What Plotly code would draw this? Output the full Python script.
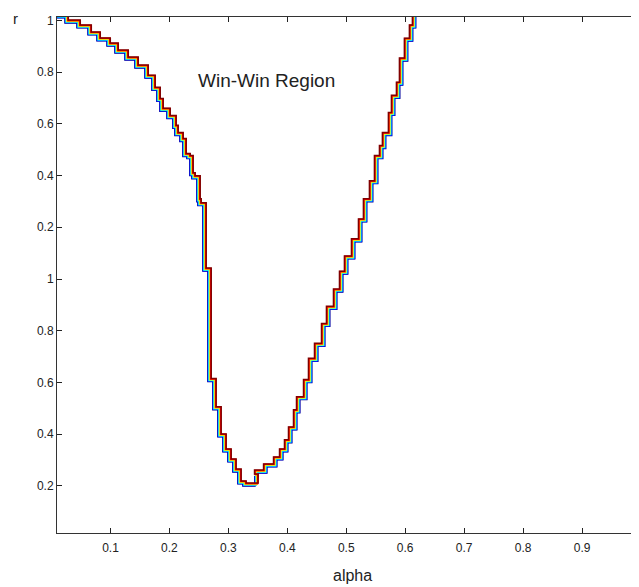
import plotly.graph_objects as go

# Base curve (step corners)
alpha_left = [0.0093, 0.0229, 0.0432, 0.0619, 0.0771, 0.0941, 0.1076, 0.1246, 0.1415, 0.1585,
              0.1703, 0.1788, 0.1839, 0.1958, 0.2059, 0.2093, 0.2178, 0.2229, 0.2297, 0.2347,
              0.2381, 0.2466, 0.2483, 0.2568, 0.2653, 0.2737, 0.2822, 0.2907, 0.2992, 0.3076,
              0.3161, 0.3246, 0.3449]
r_left = [2.021, 2.010, 1.990, 1.971, 1.944, 1.921, 1.901, 1.874, 1.847, 1.816,
          1.777, 1.730, 1.687, 1.649, 1.621, 1.583, 1.555, 1.532, 1.474, 1.466,
          1.400, 1.388, 1.299, 1.284, 1.031, 0.604, 0.495, 0.390, 0.332, 0.293,
          0.254, 0.208, 0.200]
alpha_right = [0.3500, 0.3653, 0.3822, 0.3924, 0.4008, 0.4076, 0.4161, 0.4212, 0.4331, 0.4415,
               0.4517, 0.4636, 0.4720, 0.4839, 0.4941, 0.5025, 0.5144, 0.5263, 0.5347, 0.5449,
               0.5534, 0.5619, 0.5669, 0.5771, 0.5822, 0.5907, 0.5958, 0.6042, 0.6127, 0.6178,
               0.6212]
r_right = [0.235, 0.250, 0.274, 0.301, 0.332, 0.367, 0.417, 0.483, 0.534, 0.600,
           0.682, 0.740, 0.817, 0.883, 0.950, 1.019, 1.078, 1.144, 1.221, 1.299,
           1.369, 1.466, 1.505, 1.555, 1.633, 1.699, 1.750, 1.843, 1.920, 1.971,
           2.021]

# Nine nearly identical runs, each nudged slightly inward/upward
series_colors = ["#00008F", "#0000FF", "#0080FF", "#00FFFF", "#80FF80", "#FFFF00", "#FF8000", "#FF0000", "#800000"]
series_dx = [0.0, 0.0007, 0.0014, 0.0021, 0.0028, 0.0035, 0.0042, 0.0049, 0.0056]
series_dy = [0.0, 0.0014, 0.0028, 0.0042, 0.0056, 0.0070, 0.0084, 0.0098, 0.0112]

y_tickvals = [0.2, 0.4, 0.6, 0.8, 1.0, 1.2, 1.4, 1.6, 1.8, 2.0]
y_ticktext = ["0.2", "0.4", "0.6", "0.8", "1", "0.2", "0.4", "0.6", "0.8", "1"]
x_tickvals = [0.1, 0.2, 0.3, 0.4, 0.5, 0.6, 0.7, 0.8, 0.9]
x_ticktext = ["0.1", "0.2", "0.3", "0.4", "0.5", "0.6", "0.7", "0.8", "0.9"]

fig = go.Figure()
for color, dx, dy in zip(series_colors, series_dx, series_dy):
    xs = [a + dx for a in alpha_left] + [a - dx for a in alpha_right]
    ys = [v + dy for v in r_left] + [v + dy for v in r_right]
    fig.add_trace(go.Scatter(x=xs, y=ys, mode="lines", line=dict(color=color, width=1.5, shape="vh"),
                             showlegend=False, hoverinfo="skip"))

# page has an 8px body margin: size the figure so the plot lands where the reference has it
OFF = 8
W, H = 639 - OFF, 587 - OFF
L, T, B = 57 - OFF, 17 - OFF, 54
pw = W - L
ph = H - T - B


def px_x(px):
    return (px - OFF - L) / pw


def px_y(py):
    return 1 - (py - OFF - T) / ph


fig.update_layout(
    width=W, height=H, margin=dict(l=L, r=0, t=T, b=B, pad=0),
    paper_bgcolor="white", plot_bgcolor="white",
    font=dict(family="Liberation Sans, Arial, sans-serif", size=12, color="#222"),
    xaxis=dict(range=[0.0093, 0.9966], tickvals=x_tickvals, ticktext=x_ticktext, automargin=False,
               ticks="inside", ticklen=5, tickcolor="#222", showline=True, linecolor="#333",
               linewidth=1, mirror="ticks", showgrid=False, zeroline=False, ticklabelstandoff=4),
    yaxis=dict(range=[0.018, 2.013], tickvals=y_tickvals, ticktext=y_ticktext, automargin=False,
               ticks="inside", ticklen=5, tickcolor="#222", showline=True, linecolor="#333",
               linewidth=1, mirror=False, showgrid=False, zeroline=False),
    annotations=[
        dict(text="r", xref="paper", yref="paper", x=px_x(15), y=px_y(8),
             showarrow=False, font=dict(size=15, color="#222"), xanchor="center", yanchor="top"),
        dict(text="alpha", xref="paper", yref="paper", x=px_x(352), y=px_y(575),
             showarrow=False, font=dict(size=16, color="#222"), xanchor="center", yanchor="middle"),
        dict(text="Win-Win Region", xref="paper", yref="paper", x=px_x(266), y=px_y(80),
             showarrow=False, font=dict(size=19, color="#222"), xanchor="center", yanchor="middle"),
    ],
)
fig.write_html("out.html")
